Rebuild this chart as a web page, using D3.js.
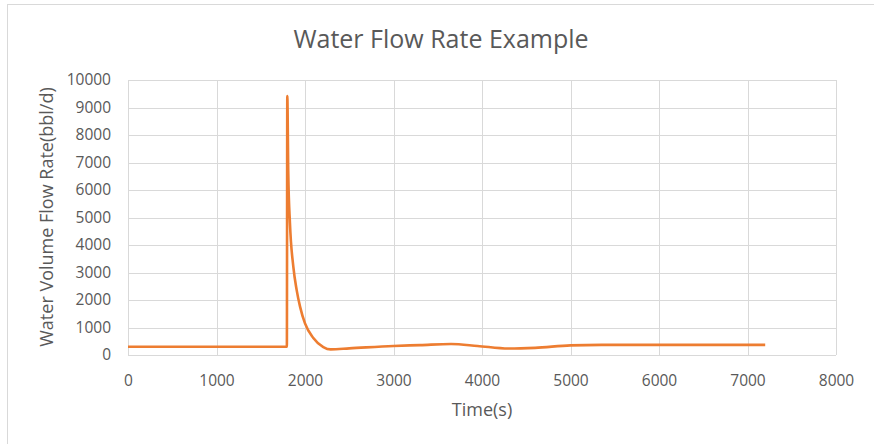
<!DOCTYPE html>
<html><head><meta charset="utf-8">
<script src="https://cdn.jsdelivr.net/npm/d3@7"></script>
<style>body{margin:0;background:#fff}svg{display:block}text{font-family:"Open Sans",sans-serif;fill:#595959}</style>
</head><body><svg id="c" width="874" height="444"></svg>
<script>
const title = "Water Flow Rate Example";
const xLabel = "Time(s)";
const yLabel = "Water Volume Flow Rate(bbl/d)";
const xTicks = [0,1000,2000,3000,4000,5000,6000,7000,8000];
const yTicks = [0,1000,2000,3000,4000,5000,6000,7000,8000,9000,10000];
const times  = [0, 1795, 1800, 1811, 1830, 1868, 1906, 1944, 2000, 2094, 2207, 2290, 2500, 3000, 3300, 3650, 3950, 4300, 4600, 5000, 5350, 6000, 7200];
const rates  = [300, 300, 9420, 6600, 4790, 3210, 2360, 1760, 1150, 620, 290, 205, 240, 330, 360, 400, 330, 235, 260, 350, 370, 370, 370];

const svg = d3.select("#c");
svg.append("rect").attr("x",7.5).attr("y",4.5).attr("width",900).attr("height",500)
  .attr("fill","#fff").attr("stroke","#d9d9d9");

const m = {l:128, r:836, t:80, b:355};
const x = d3.scaleLinear().domain([0,8000]).range([m.l,m.r]);
const y = d3.scaleLinear().domain([0,10000]).range([m.b,m.t]);

const g = svg.append("g");
g.selectAll(".hg").data(yTicks).join("line")
  .attr("x1",m.l).attr("x2",m.r).attr("y1",d=>Math.round(y(d))+0.5).attr("y2",d=>Math.round(y(d))+0.5)
  .attr("stroke","#d9d9d9").attr("stroke-width",1);
g.selectAll(".vg").data(xTicks).join("line")
  .attr("y1",m.t).attr("y2",m.b).attr("x1",d=>Math.round(x(d))+0.5).attr("x2",d=>Math.round(x(d))+0.5)
  .attr("stroke","#d9d9d9").attr("stroke-width",1);

const xAxis = svg.append("g").attr("transform",`translate(0,${m.b})`)
  .call(d3.axisBottom(x).tickValues(xTicks).tickSize(0).tickPadding(20).tickFormat(d3.format("d")));
xAxis.select(".domain").remove();
xAxis.selectAll("text").style("font-size","15.5px").attr("fill","#595959");

const yAxis = svg.append("g").attr("transform",`translate(${m.l},0)`)
  .call(d3.axisLeft(y).tickValues(yTicks).tickSize(0).tickPadding(17).tickFormat(d3.format("d")));
yAxis.select(".domain").remove();
yAxis.selectAll("text").style("font-size","15.5px").attr("fill","#595959");

const data = times.map((t,i)=>({t, v:rates[i]}));
svg.append("path").datum(data)
  .attr("fill","none").attr("stroke","#ED7D31").attr("stroke-width",2.6).attr("stroke-linejoin","round")
  .attr("d", d3.line().x(d=>x(d.t)).y(d=>y(d.v)).curve(d3.curveMonotoneX));

svg.append("text").attr("x",441).attr("y",48).attr("text-anchor","middle")
  .style("font-size","25px").text(title);
svg.append("text").attr("x",482).attr("y",416).attr("text-anchor","middle")
  .style("font-size","18px").text(xLabel);
svg.append("text").attr("transform","translate(53,217) rotate(-90)").attr("text-anchor","middle")
  .style("font-size","18px").text(yLabel);
</script></body></html>
